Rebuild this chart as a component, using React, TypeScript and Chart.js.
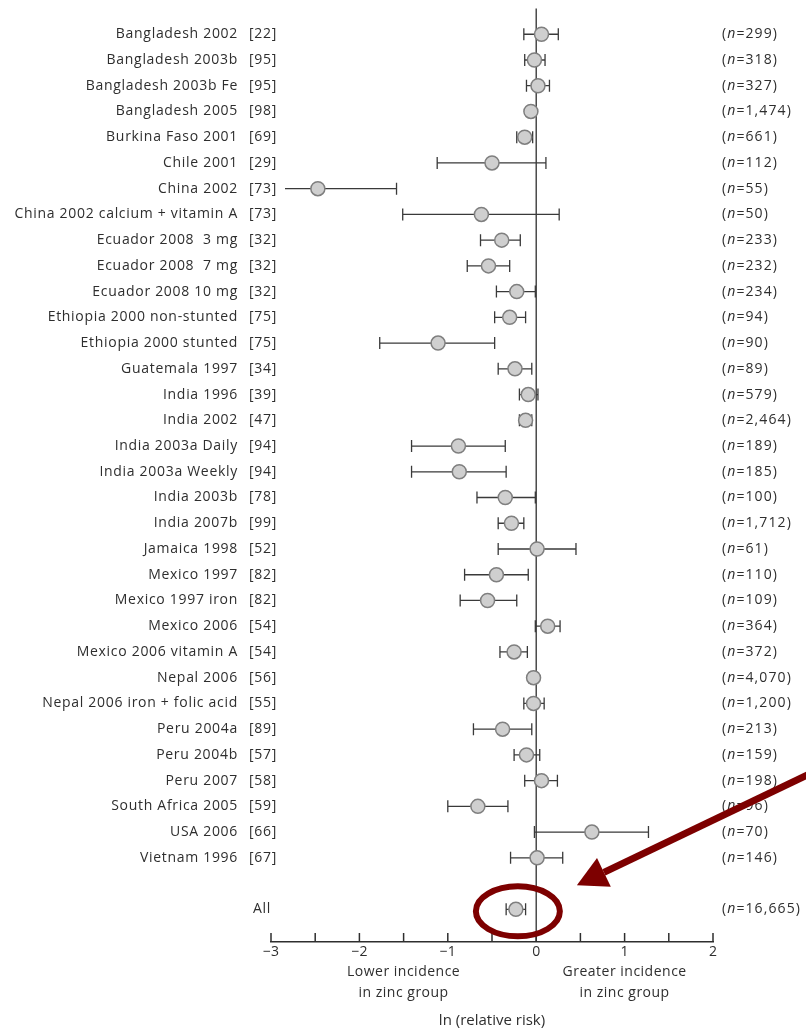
import React, { useEffect, useRef } from "react";
import { Chart, registerables } from "chart.js";

Chart.register(...registerables);

const studyNames = [
  "Bangladesh 2002", "Bangladesh 2003b", "Bangladesh 2003b Fe", "Bangladesh 2005",
  "Burkina Faso 2001", "Chile 2001", "China 2002", "China 2002 calcium + vitamin A",
  "Ecuador 2008  3 mg", "Ecuador 2008  7 mg", "Ecuador 2008 10 mg",
  "Ethiopia 2000 non-stunted", "Ethiopia 2000 stunted", "Guatemala 1997",
  "India 1996", "India 2002", "India 2003a Daily", "India 2003a Weekly",
  "India 2003b", "India 2007b", "Jamaica 1998", "Mexico 1997", "Mexico 1997 iron",
  "Mexico 2006", "Mexico 2006 vitamin A", "Nepal 2006", "Nepal 2006 iron + folic acid",
  "Peru 2004a", "Peru 2004b", "Peru 2007", "South Africa 2005", "USA 2006", "Vietnam 1996",
  "All",
];
const refLabels = [
  "[22]", "[95]", "[95]", "[98]", "[69]", "[29]", "[73]", "[73]", "[32]", "[32]", "[32]",
  "[75]", "[75]", "[34]", "[39]", "[47]", "[94]", "[94]", "[78]", "[99]", "[52]", "[82]",
  "[82]", "[54]", "[54]", "[56]", "[55]", "[89]", "[57]", "[58]", "[59]", "[66]", "[67]", "",
];
const sampleSizes = [
  299, 318, 327, 1474, 661, 112, 55, 50, 233, 232, 234, 94, 90, 89, 579, 2464, 189, 185,
  100, 1712, 61, 110, 109, 364, 372, 4070, 1200, 213, 159, 198, 96, 70, 146, 16665,
];
const estimates = [
  0.06, -0.02, 0.02, -0.06, -0.13, -0.5, -2.47, -0.62, -0.39, -0.54, -0.22, -0.3, -1.11,
  -0.24, -0.09, -0.12, -0.88, -0.87, -0.35, -0.28, 0.01, -0.45, -0.55, 0.13, -0.25, -0.03,
  -0.03, -0.38, -0.11, 0.06, -0.66, 0.63, 0.01, -0.23,
];
const lowerCI = [
  -0.14, -0.13, -0.11, -0.1, -0.22, -1.12, -3.3, -1.51, -0.63, -0.78, -0.45, -0.47, -1.77,
  -0.43, -0.19, -0.19, -1.41, -1.41, -0.67, -0.43, -0.43, -0.81, -0.86, -0.01, -0.41, -0.08,
  -0.14, -0.71, -0.25, -0.13, -1.0, -0.02, -0.29, -0.34,
];
const upperCI = [
  0.25, 0.1, 0.15, -0.02, -0.04, 0.11, -1.58, 0.26, -0.18, -0.3, -0.01, -0.12, -0.47, -0.05,
  0.02, -0.05, -0.35, -0.34, -0.01, -0.14, 0.45, -0.09, -0.22, 0.27, -0.1, 0.01, 0.09, -0.05,
  0.04, 0.24, -0.32, 1.27, 0.3, -0.12,
];
const xTickValues = [-3, -2, -1, 0, 1, 2];
const bottomNotes = [
  { x: -1.5, lines: ["Lower incidence", "in zinc group"] },
  { x: 1.0, lines: ["Greater incidence", "in zinc group"] },
];

const FONT = "'Open Sans', 'DejaVu Sans', sans-serif";
const INK = "#2e2e2e";

const rowOf = (i: number) => (i === studyNames.length - 1 ? i + 1 : i);

const forestPlugin = {
  id: "forest",
  beforeDatasetsDraw(chart: any) {
    const { ctx, chartArea, scales } = chart;
    const xs = scales.x;
    const ys = scales.y;
    ctx.save();
    const x0 = xs.getPixelForValue(0);
    ctx.strokeStyle = INK;
    ctx.lineWidth = 1.3;
    ctx.beginPath();
    ctx.moveTo(x0, chartArea.top);
    ctx.lineTo(x0, chartArea.bottom);
    ctx.stroke();
    ctx.lineWidth = 1.5;
    for (let v = -3; v <= 2.0001; v += 0.5) {
      const px = xs.getPixelForValue(v);
      ctx.beginPath();
      ctx.moveTo(px, chartArea.bottom);
      ctx.lineTo(px, chartArea.bottom - 9);
      ctx.stroke();
    }
    ctx.strokeStyle = "#3a3a3a";
    ctx.lineWidth = 1.3;
    const minPx = chartArea.left + 14;
    for (let i = 0; i < estimates.length; i++) {
      const y = ys.getPixelForValue(rowOf(i));
      const rawL = xs.getPixelForValue(lowerCI[i]);
      const xl = Math.max(rawL, minPx);
      const xr = xs.getPixelForValue(upperCI[i]);
      ctx.beginPath();
      ctx.moveTo(xl, y);
      ctx.lineTo(xr, y);
      if (rawL >= minPx) {
        ctx.moveTo(xl, y - 6);
        ctx.lineTo(xl, y + 6);
      }
      ctx.moveTo(xr, y - 6);
      ctx.lineTo(xr, y + 6);
      ctx.stroke();
    }
    ctx.restore();
  },
  afterDatasetsDraw(chart: any) {
    const { ctx, chartArea, scales } = chart;
    const xs = scales.x;
    const ys = scales.y;
    ctx.save();
    ctx.fillStyle = INK;
    ctx.textBaseline = "middle";
    for (let i = 0; i < studyNames.length; i++) {
      const y = ys.getPixelForValue(rowOf(i));
      ctx.font = `14px ${FONT}`;
      (ctx as any).letterSpacing = "0.7px";
      if (i === studyNames.length - 1) {
        ctx.textAlign = "left";
        ctx.fillText(studyNames[i], 253, y);
      } else {
        ctx.textAlign = "right";
        ctx.fillText(studyNames[i], 238, y);
        ctx.textAlign = "left";
        ctx.fillText(refLabels[i], 249, y);
      }
      (ctx as any).letterSpacing = "1.1px";
      let x = 722;
      ctx.textAlign = "left";
      ctx.fillText("(", x, y);
      x += ctx.measureText("(").width;
      ctx.font = `italic 14px ${FONT}`;
      ctx.fillText("n", x, y);
      x += ctx.measureText("n").width;
      ctx.font = `14px ${FONT}`;
      ctx.fillText("=" + sampleSizes[i].toLocaleString("en-US") + ")", x, y);
    }
    ctx.font = `14px ${FONT}`;
    (ctx as any).letterSpacing = "0.5px";
    ctx.textAlign = "center";
    for (const note of bottomNotes) {
      const px = xs.getPixelForValue(note.x);
      note.lines.forEach((ln, k) => ctx.fillText(ln, px, chartArea.bottom + 30 + k * 21));
    }
    (ctx as any).letterSpacing = "0px";
    const last = estimates.length - 1;
    const ex = xs.getPixelForValue(estimates[last]) + 2;
    const ey = ys.getPixelForValue(rowOf(last)) + 2;
    ctx.strokeStyle = "#7d0000";
    ctx.lineWidth = 6;
    ctx.beginPath();
    ctx.ellipse(ex, ey, 42, 25, 0, 0, Math.PI * 2);
    ctx.stroke();
    const tipX = ex + 59;
    const tipY = ey - 26;
    const startX = 815;
    const startY = ey - 140;
    const ang = Math.atan2(tipY - startY, tipX - startX);
    const headLen = 30;
    const headW = 16;
    const bx = tipX - headLen * Math.cos(ang);
    const by = tipY - headLen * Math.sin(ang);
    ctx.lineWidth = 7;
    ctx.beginPath();
    ctx.moveTo(startX, startY);
    ctx.lineTo(bx, by);
    ctx.stroke();
    ctx.fillStyle = "#7d0000";
    ctx.beginPath();
    ctx.moveTo(tipX, tipY);
    ctx.lineTo(bx + headW * Math.sin(ang), by - headW * Math.cos(ang));
    ctx.lineTo(bx - headW * Math.sin(ang), by + headW * Math.cos(ang));
    ctx.closePath();
    ctx.fill();
    ctx.restore();
  },
};

export default function App() {
  const canvasRef = useRef<HTMLCanvasElement | null>(null);
  useEffect(() => {
    if (!canvasRef.current) return;
    const chart = new Chart(canvasRef.current, {
      type: "scatter",
      data: {
        datasets: [
          {
            data: estimates.map((v, i) => ({ x: v, y: rowOf(i) })),
            pointRadius: 7,
            pointHoverRadius: 7,
            pointBackgroundColor: "#cfcfcf",
            pointBorderColor: "#7f7f7f",
            pointBorderWidth: 1.5,
          },
        ],
      },
      options: {
        responsive: false,
        animation: false,
        events: [],
        layout: { padding: { left: 271, right: 93, top: 8, bottom: 0 } },
        plugins: { legend: { display: false }, tooltip: { enabled: false } },
        scales: {
          x: {
            type: "linear",
            min: -3,
            max: 2,
            afterBuildTicks: (scale: any) => {
              scale.ticks = xTickValues.map((v) => ({ value: v }));
            },
            afterFit: (scale: any) => {
              scale.height = 89;
            },
            ticks: {
              color: INK,
              padding: 2,
              font: { family: FONT, size: 14 },
              callback: (v: any) => (v < 0 ? "\u2212" + Math.abs(v) : String(v)),
            },
            grid: { display: false, drawTicks: false, tickLength: 0 },
            border: { display: true, color: INK, width: 1.5 },
            title: {
              display: true,
              text: "ln (relative risk)",
              color: INK,
              font: { family: FONT, size: 15 },
              padding: { top: 0, bottom: 1 },
            },
          },
          y: { type: "linear", min: -1, max: 35.27, reverse: true, display: false },
        },
      },
      plugins: [forestPlugin],
    });
    return () => chart.destroy();
  }, []);
  return (
    <div style={{ position: "fixed", left: 0, top: 0, width: 806, height: 1031, background: "#fff" }}>
      <canvas ref={canvasRef} width={806} height={1031} />
    </div>
  );
}
